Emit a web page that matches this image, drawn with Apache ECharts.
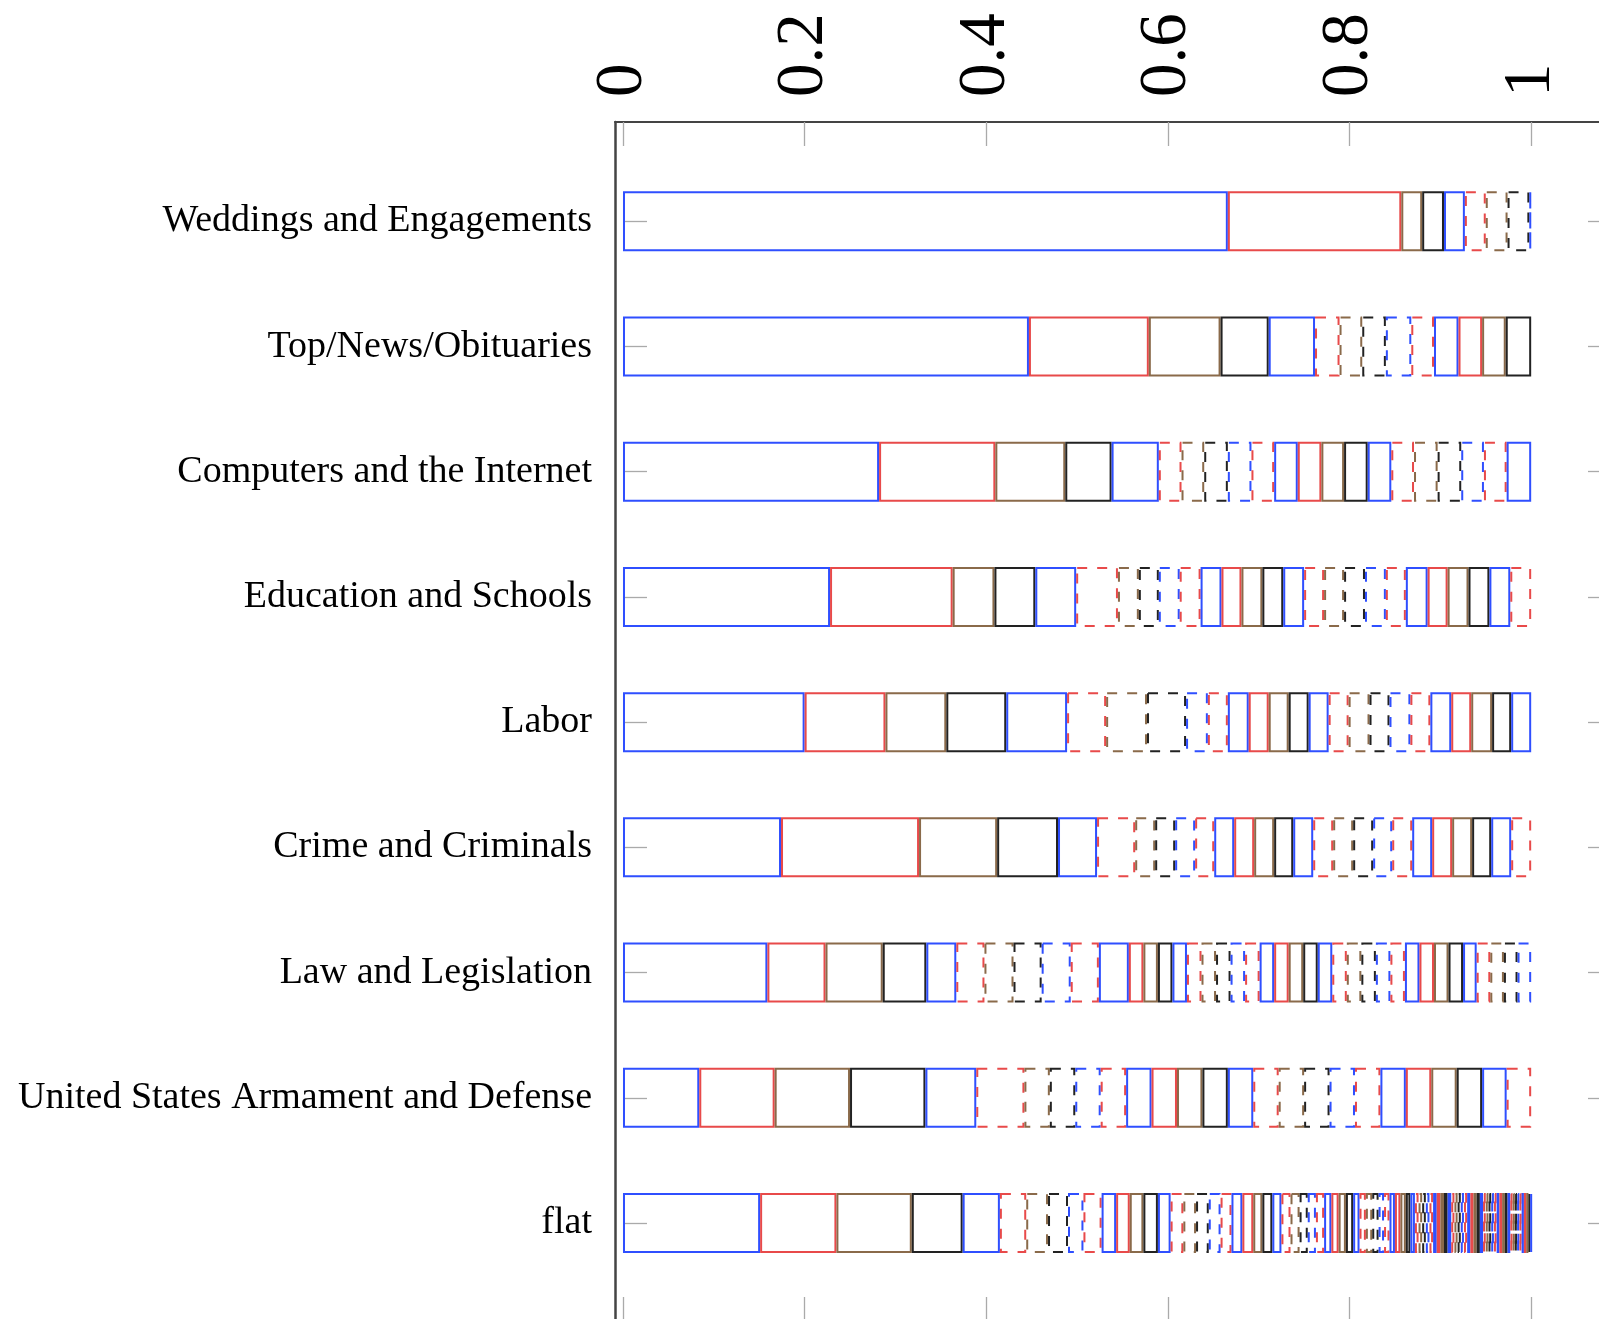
<!DOCTYPE html>
<html><head><meta charset="utf-8">
<script src="https://cdn.jsdelivr.net/npm/echarts@6/dist/echarts.min.js"></script>
<style>html,body{margin:0;padding:0;background:#fff}#c{width:1599px;height:1319px}</style>
</head><body><div id="c"></div>
<script>
// ---- data (segment proportions per row, in stacking order) ----
const categories = ['Weddings and Engagements','Top/News/Obituaries','Computers and the Internet','Education and Schools','Labor','Crime and Criminals','Law and Legislation','United States Armament and Defense','flat'];

const weddings = [0.666, 0.191, 0.023, 0.024, 0.023, 0.023, 0.024, 0.024, 0.002];
const topNews = [0.447, 0.132, 0.079, 0.053, 0.051, 0.027, 0.025, 0.026, 0.028, 0.025, 0.027, 0.026, 0.026, 0.028];
const computers = [0.282, 0.128, 0.077, 0.051, 0.052, 0.025, 0.025, 0.026, 0.026, 0.025, 0.026, 0.026, 0.025, 0.026, 0.026, 0.025, 0.026, 0.026, 0.025, 0.025, 0.027];
const education = [0.228, 0.135, 0.046, 0.045, 0.045, 0.046, 0.023, 0.022, 0.023, 0.023, 0.023, 0.022, 0.023, 0.023, 0.023, 0.022, 0.022, 0.023, 0.023, 0.022, 0.024, 0.022, 0.023, 0.023, 0.023, 0.023];
const labor = [0.200, 0.089, 0.067, 0.066, 0.067, 0.043, 0.045, 0.043, 0.024, 0.022, 0.023, 0.022, 0.022, 0.022, 0.022, 0.022, 0.023, 0.022, 0.023, 0.022, 0.023, 0.022, 0.023, 0.021, 0.022];
const crime = [0.174, 0.152, 0.086, 0.067, 0.043, 0.042, 0.022, 0.022, 0.022, 0.021, 0.022, 0.022, 0.022, 0.021, 0.022, 0.022, 0.022, 0.022, 0.021, 0.022, 0.022, 0.022, 0.022, 0.021, 0.022, 0.022];
const law = [0.159, 0.064, 0.063, 0.048, 0.033, 0.031, 0.032, 0.031, 0.032, 0.031, 0.033, 0.016, 0.016, 0.016, 0.016, 0.016, 0.016, 0.016, 0.016, 0.016, 0.016, 0.016, 0.016, 0.016, 0.016, 0.016, 0.016, 0.016, 0.016, 0.016, 0.016, 0.016, 0.016, 0.016, 0.015, 0.015, 0.015, 0.015, 0.015];
const armament = [0.084, 0.083, 0.083, 0.083, 0.056, 0.053, 0.028, 0.028, 0.028, 0.028, 0.028, 0.028, 0.028, 0.028, 0.028, 0.028, 0.028, 0.028, 0.028, 0.028, 0.028, 0.028, 0.028, 0.028, 0.027, 0.027];
const flat = [0.151, 0.084, 0.083, 0.056, 0.041, 0.029, 0.024, 0.022, 0.017, 0.020,
  0.016, 0.015, 0.015, 0.016, 0.014, 0.014, 0.014, 0.014, 0.013, 0.012,
  0.012, 0.012, 0.010, 0.011, 0.010, 0.010, 0.010, 0.009, 0.009, 0.009,
  0.008, 0.008, 0.008, 0.008, 0.007, 0.007, 0.007, 0.007, 0.006, 0.006,
  0.006, 0.006, 0.006, 0.005, 0.005, 0.004, 0.004, 0.004, 0.004, 0.004,
  0.004, 0.004, 0.004, 0.004, 0.004, 0.0035, 0.0035, 0.0035, 0.0035, 0.0035,
  0.0035, 0.0035, 0.0035, 0.0035, 0.0035, 0.003, 0.003, 0.003, 0.003, 0.003,
  0.003, 0.003, 0.003, 0.003, 0.003, 0.0025, 0.0025, 0.0025, 0.0025, 0.0025,
  0.0025, 0.0025, 0.0025, 0.002, 0.002];

const tickValues = [0, 0.2, 0.4, 0.6, 0.8, 1];
const tickLabels = ['0', '0.2', '0.4', '0.6', '0.8', '1'];

// ---- styles ----
const rows = [weddings, topNews, computers, education, labor, crime, law, armament, flat];
const cycleColors = ['#2f4fff', '#e84a4a', '#8a6a4a', '#222222', '#2f4fff', '#e84a4a', '#8a6a4a', '#222222', '#2f4fff', '#e84a4a'];
const X_MIN = -0.0088, X_MAX = 1.089;
const SERIF = '"Liberation Serif", "DejaVu Serif", serif';

const maxLen = Math.max(...rows.map(r => r.length));
const series = [];
for (let k = 0; k < maxLen; k++) {
  const m = k % 10;
  series.push({
    type: 'bar', stack: 'all', xAxisIndex: 0, yAxisIndex: 0,
    barWidth: 60, silent: true,
    data: rows.map(r => (k < r.length ? r[k] : '-')),
    itemStyle: {
      color: 'rgba(0,0,0,0)', borderColor: cycleColors[m], borderWidth: 2,
      borderType: m < 5 ? 'solid' : [10, 10]
    },
    emphasis: { disabled: true }
  });
}

const chart = echarts.init(document.getElementById('c'), null, { renderer: 'canvas' });
chart.setOption({
  animation: false,
  backgroundColor: '#fff',
  grid: [
    { left: 615, right: -13, top: 158.7, bottom: 33.4, containLabel: false, outerBoundsMode: 'none' },
    { left: 615, right: -13, top: 122, bottom: -2, containLabel: false, outerBoundsMode: 'none' }
  ],
  xAxis: [
    { type: 'value', gridIndex: 0, min: X_MIN, max: X_MAX, show: false },
    {
      type: 'value', gridIndex: 1, position: 'top', min: X_MIN, max: X_MAX,
      axisLine: { show: true, onZero: false, lineStyle: { color: '#444', width: 2 } },
      axisTick: { show: true, inside: true, length: 24, customValues: tickValues, lineStyle: { color: '#aaa', width: 1.3 } },
      axisLabel: {
        show: true, rotate: -90, margin: 25, fontSize: 67, fontFamily: SERIF, color: '#000',
        customValues: tickValues,
        formatter: v => tickLabels[tickValues.indexOf(v)]
      },
      splitLine: { show: false }
    },
    {
      type: 'value', gridIndex: 1, position: 'bottom', min: X_MIN, max: X_MAX,
      axisLine: { show: true, onZero: false, lineStyle: { color: '#444', width: 2 } },
      axisTick: { show: true, inside: true, length: 24, customValues: tickValues, lineStyle: { color: '#aaa', width: 1.3 } },
      axisLabel: { show: false },
      splitLine: { show: false }
    }
  ],
  yAxis: [
    {
      type: 'category', gridIndex: 0, position: 'left', inverse: true, data: categories,
      axisLine: { show: false },
      axisTick: { show: true, inside: true, alignWithLabel: true, length: 24, lineStyle: { color: '#aaa', width: 1.3 } },
      axisLabel: { margin: 23, fontSize: 38, fontFamily: SERIF, color: '#000' },
      splitLine: { show: false }
    },
    {
      type: 'category', gridIndex: 0, position: 'right', inverse: true, data: categories,
      axisLine: { show: false },
      axisTick: { show: true, inside: true, alignWithLabel: true, length: 24, lineStyle: { color: '#aaa', width: 1.3 } },
      axisLabel: { show: false },
      splitLine: { show: false }
    },
    {
      type: 'value', gridIndex: 1, position: 'left', min: 0, max: 1,
      axisLine: { show: true, onZero: false, lineStyle: { color: '#444', width: 2.5 } },
      axisTick: { show: false }, axisLabel: { show: false }, splitLine: { show: false }
    },
    {
      type: 'value', gridIndex: 1, position: 'right', min: 0, max: 1,
      axisLine: { show: true, onZero: false, lineStyle: { color: '#444', width: 2 } },
      axisTick: { show: false }, axisLabel: { show: false }, splitLine: { show: false }
    }
  ],
  series: series
});
</script>
</body></html>
